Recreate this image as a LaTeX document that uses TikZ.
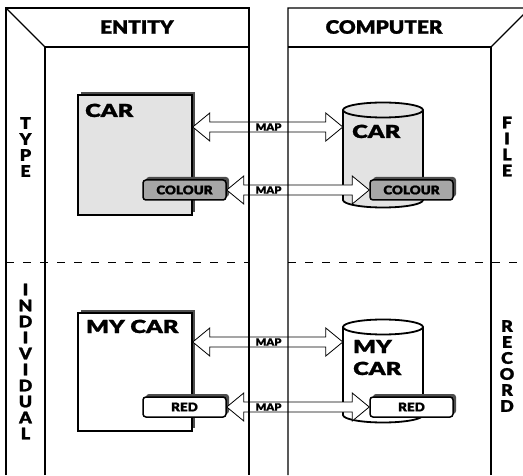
\documentclass[tikz,border=0pt]{standalone}
\usepackage{fontspec}
\setmainfont{Lato}[BoldFont={Lato Black}]
\newfontfamily\heavy{Lato Black}[FakeStretch=1.12, FakeBold=1.2]
\newfontfamily\heavywide{Lato Black}[FakeStretch=1.32, FakeBold=1.4]
\usetikzlibrary{calc}

\definecolor{paleGray}{HTML}{E3E3E3}
\definecolor{midGray}{HTML}{A6A6A6}
\definecolor{shadowGray}{HTML}{4D4D4D}

\tikzset{
  wall/.style={line width=1.2pt},
  rowline/.style={line width=1pt, dash pattern=on 8pt off 9pt},
  concept/.style={draw, line width=1.5pt, minimum width=114pt, inner sep=0pt},
  shadowed/.style={preaction={fill=shadowGray, transform canvas={xshift=3pt,yshift=3pt}}},
  attr/.style={draw, line width=1.5pt, rounded corners=3pt, minimum width=83pt,
    minimum height=20pt, inner sep=0pt, font=\heavy\fontsize{12}{12}\selectfont},
  header/.style={font=\heavy\fontsize{18.5}{18.5}\selectfont},
  sidelabel/.style={font=\heavy\fontsize{16}{16}\selectfont, align=center, inner sep=0pt},
  bigname/.style={font=\heavywide\fontsize{18}{21}\selectfont, anchor=base west, inner sep=0pt},
  maplabel/.style={font=\heavy\fontsize{10}{10}\selectfont, inner sep=0pt},
  maparrowline/.style={draw, fill=white, line width=0.8pt, line join=miter},
  drum/.style={draw, line width=1.8pt},
  slot/.style={minimum width=80pt, inner sep=0pt},
}

% double-headed MAP arrow from the east side of #1 to the west side of #2 at height #3
\newcommand\maparrow[3]{%
  \draw[maparrowline] let \p1=(#1.east), \p2=(#2.west), \p3=(0,#3) in
    (\x1,\y3) -- ({\x1+17pt},{\y3+14pt}) -- ({\x1+17pt},{\y3+5pt})
    -- ({\x2-17pt},{\y3+5pt}) -- ({\x2-17pt},{\y3+14pt}) -- (\x2,\y3)
    -- ({\x2-17pt},{\y3-14pt}) -- ({\x2-17pt},{\y3-5pt})
    -- ({\x1+17pt},{\y3-5pt}) -- ({\x1+17pt},{\y3-14pt}) -- cycle;}

% drum (cylinder) between x=343 and x=423, top cap at #2, bottom cap at #3
\newcommand\drumpath[3]{%
  \path[drum, fill=#1] (343,#2) -- (343,#3) arc (180:360:40 and 7.5)
    -- (423,#2) arc (0:180:40 and 7.5) -- cycle;
  \draw[drum] (343,#2) arc (180:360:40 and 7.5);}

\begin{document}
\begin{tikzpicture}[x=1pt,y=1pt]
\useasboundingbox (0,0) rectangle (523,475);

% ---- type level ----
\node[concept, fill=paleGray, minimum height=120pt, shadowed] (car) at (135,320) {};
\node[attr, fill=midGray, shadowed] (colourL) at (184.5,285) {COLOUR};
\drumpath{paleGray}{365}{275}
\node[slot, minimum height=105pt] (cylA) at (383,320) {};
\node[attr, fill=midGray, shadowed] (colourR) at (411.5,285) {COLOUR};

% ---- individual level ----
\node[concept, fill=white, minimum height=118pt, shadowed] (mycar) at (135,103) {};
\node[attr, fill=white, shadowed] (redL) at (184.5,68) {RED};
\drumpath{white}{148}{60}
\node[slot, minimum height=103pt] (cylB) at (383,104) {};
\node[attr, fill=white, shadowed] (redR) at (411.5,68) {RED};

% ---- mappings ----
\maparrow{car}{cylA}{348}
\maparrow{colourL}{colourR}{285}
\maparrow{mycar}{cylB}{133}
\maparrow{redL}{redR}{68}

% ---- rooms ----
\begin{scope}
  \clip (0,0) rectangle (523,475);
  \draw[wall] (6,0) -- (6,467) -- (249,467) -- (249,0);
  \draw[wall] (6,467) -- (45,428);
  \draw[wall] (45,0) -- (45,428) -- (249,428);
  \draw[wall] (288,0) -- (288,467) -- (530,467) -- (491,428);
  \draw[wall] (491,0) -- (491,428) -- (288,428);
  \draw[rowline] (6,212) -- (249,212);
  \draw[rowline] (288,212) -- (523,212);
\end{scope}

% ---- texts ----
\node[header] (hEntity) at (137,448) {ENTITY};
\node[header] (hComputer) at (384,448) {COMPUTER};
\node[sidelabel] (sType) at (25.5,328) {T\\Y\\P\\E};
\node[sidelabel] (sIndividual) at (25.5,113.5) {I\\N\\D\\I\\V\\I\\D\\U\\A\\L};
\node[sidelabel] (sFile) at (507,328.5) {F\\I\\L\\E};
\node[sidelabel] (sRecord) at (507,109) {R\\E\\C\\O\\R\\D};

\node[bigname] (carName) at (85,358) {CAR};
\node[bigname] (carFile) at (352,337) {CAR};
\node[bigname] (mycarName) at (86,142) {MY CAR};
\node[bigname] (myFile) at (353,122) {MY};
\node[bigname] (carRec) at (353,100) {CAR};

\node[maplabel] (map1) at (268.5,348) {MAP};
\node[maplabel] (map2) at (268.5,285) {MAP};
\node[maplabel] (map3) at (268.5,133) {MAP};
\node[maplabel] (map4) at (268.5,68) {MAP};
\end{tikzpicture}
\end{document}
